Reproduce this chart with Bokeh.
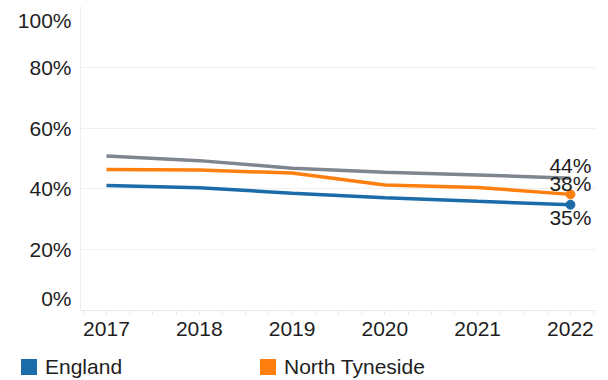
from bokeh.plotting import figure
from bokeh.layouts import column
from bokeh.models import FixedTicker, Range1d, Div
from bokeh.embed import file_html
from bokeh.resources import INLINE

# ---- data ----
years = [2017, 2018, 2019, 2020, 2021, 2022]
england = [41.1, 40.4, 38.6, 37.1, 35.9, 34.8]
north_tyneside = [46.4, 46.2, 45.2, 41.3, 40.5, 38.2]
comparator = [50.8, 49.3, 46.8, 45.5, 44.6, 43.5]
grid_ticks = [0, 20, 40, 60, 80, 100]
tick_labels = ["0%", "20%", "40%", "60%", "80%", "100%"]
legend_labels = ["England", "North Tyneside"]

FONT = "Liberation Sans"
FS = "21px"
TXT = "#1e1e1e"
BLUE = "#1b6ca8"
ORANGE = "#ff7f0e"
GREY = "#7f868f"

p = figure(width=608, height=350, output_backend="svg", toolbar_location=None,
           x_range=Range1d(years[0] - 0.28, years[-1] + 0.27),
           y_range=Range1d(grid_ticks[0], grid_ticks[-1]),
           min_border_left=80, min_border_right=13, min_border_top=6,
           min_border_bottom=40)
p.outline_line_color = None

# x axis
minor = [y + k * 0.25 for y in [years[0] - 1] + years for k in (1, 2, 3)]
p.xaxis.ticker = FixedTicker(ticks=years, minor_ticks=minor)
p.xaxis.axis_line_color = "#e8e8e8"
p.xaxis.major_tick_line_color = "#e8e8e8"
p.xaxis.minor_tick_line_color = "#e8e8e8"
p.xaxis.major_tick_out = 4
p.xaxis.major_tick_in = 0
p.xaxis.minor_tick_out = 4
p.xaxis.minor_tick_in = 0
p.xaxis.major_label_standoff = 7
p.xaxis.major_label_text_font = FONT
p.xaxis.major_label_text_font_size = FS
p.xaxis.major_label_text_color = TXT
p.xgrid.grid_line_color = None

# y axis: end labels pulled inside the plot area as in the reference
label_pos = [grid_ticks[0] + 4] + grid_ticks[1:-1] + [grid_ticks[-1] - 4.6]
p.yaxis.ticker = FixedTicker(ticks=label_pos)
p.yaxis.major_label_overrides = {pos: lab for pos, lab in zip(label_pos, tick_labels)}
p.yaxis.axis_line_color = "#ececec"
p.yaxis.major_tick_line_color = None
p.yaxis.minor_tick_line_color = None
p.yaxis.major_tick_out = 0
p.yaxis.major_tick_in = 0
p.yaxis.minor_tick_out = 0
p.yaxis.minor_tick_in = 0
p.yaxis.major_label_standoff = 9
p.yaxis.major_label_text_font = FONT
p.yaxis.major_label_text_font_size = FS
p.yaxis.major_label_text_color = TXT
p.ygrid.ticker = FixedTicker(ticks=grid_ticks)
p.ygrid.grid_line_color = "#f0f0f0"
p.ygrid.grid_line_width = 1

# lines
p.line(years, comparator, line_color=GREY, line_width=3.5)
p.line(years, north_tyneside, line_color=ORANGE, line_width=3.5)
p.line(years, england, line_color=BLUE, line_width=3.5)
p.scatter([years[-1]], [north_tyneside[-1]], size=9, color=ORANGE)
p.scatter([years[-1]], [england[-1]], size=9, color=BLUE)

def pct(v):
    return f"{int(v + 0.5)}%"

common = dict(text_align="center", text_baseline="middle",
              text_font={"value": FONT}, text_font_size=FS, text_color=TXT)
p.text([years[-1]], [comparator[-1]], text=[pct(comparator[-1])], y_offset=-13, **common)
p.text([years[-1]], [north_tyneside[-1]], text=[pct(north_tyneside[-1])], y_offset=-11, **common)
p.text([years[-1]], [england[-1]], text=[pct(england[-1])], y_offset=13, **common)

# legend strip
def item(left, color, label):
    return (f'<div style="position:absolute;left:{left}px;top:7px;height:20px;'
            f'display:flex;align-items:center;">'
            f'<span style="display:inline-block;width:16px;height:16px;background:{color};'
            f'margin-right:8px;"></span>'
            f'<span style="font-family:\'{FONT}\';font-size:{FS};line-height:20px;'
            f'color:{TXT};white-space:nowrap;">{label}</span></div>')

html = ('<div style="position:relative;width:608px;height:30px;">'
        + item(21, BLUE, legend_labels[0])
        + item(260, ORANGE, legend_labels[1])
        + '</div>')
leg = Div(text=html, width=608, height=30, margin=0)

page = column(p, leg, spacing=0)
open("out.html", "w").write(file_html(page, INLINE))
